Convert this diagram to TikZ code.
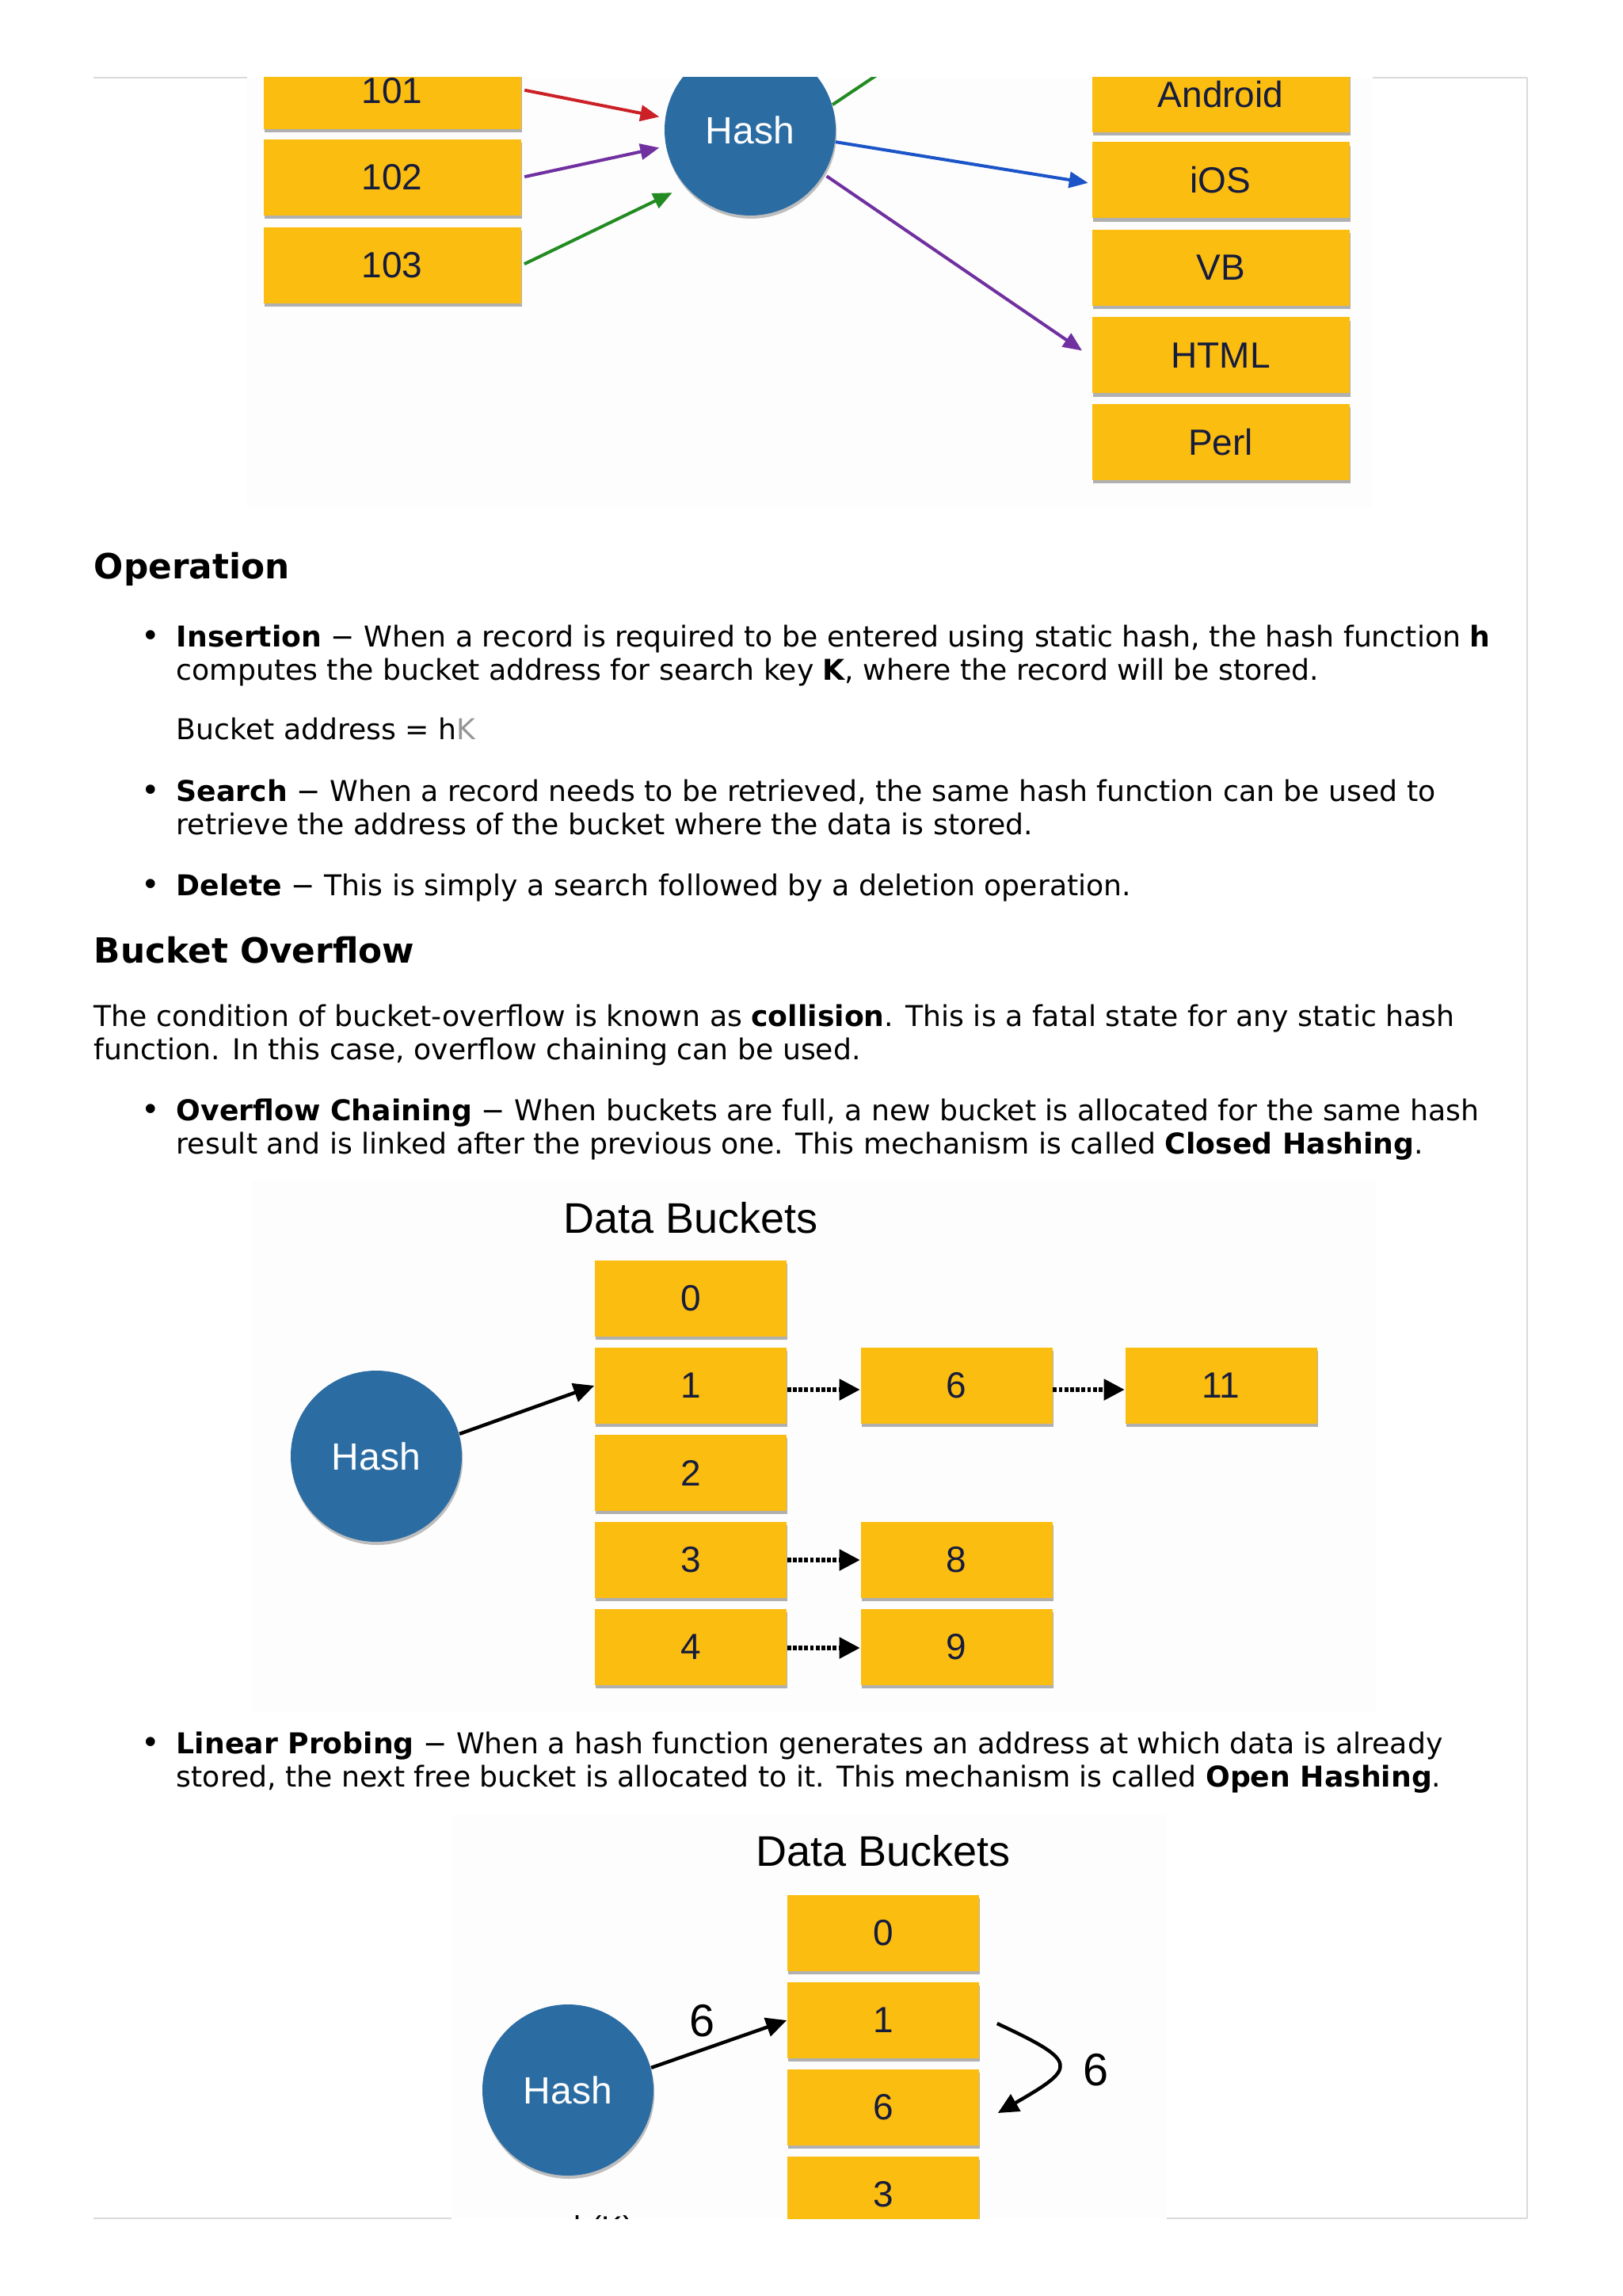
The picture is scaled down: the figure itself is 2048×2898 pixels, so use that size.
\documentclass[tikz,border=0pt]{standalone}
\usepackage{fontspec}
\setmainfont{DejaVu Sans}
\newfontfamily\diag{Liberation Sans}
\usetikzlibrary{arrows.meta,shadows,calc}
\definecolor{boxyellow}{RGB}{252,189,17}
\definecolor{hashblue}{RGB}{43,108,163}
\definecolor{boxtext}{RGB}{22,28,60}
\definecolor{arrred}{RGB}{204,32,39}
\definecolor{arrpurple}{RGB}{112,48,160}
\definecolor{arrgreen}{RGB}{34,139,34}
\definecolor{arrblue}{RGB}{27,84,200}
\definecolor{framegray}{RGB}{218,218,218}
\definecolor{imgbg}{RGB}{253,253,253}
\definecolor{kgray}{RGB}{150,150,150}
\begin{document}
\begin{tikzpicture}[x=0.25pt,y=-0.25pt,
  txt/.style={anchor=base west, inner sep=0, font=\fontsize{9.05}{10}\selectfont},
  bul/.style={anchor=base, inner sep=0, font=\fontsize{10}{10}\selectfont},
  head/.style={anchor=base west, inner sep=0, font=\bfseries\fontsize{10.95}{12}\selectfont},
  ybox/.style={rectangle, fill=boxyellow, inner sep=0, text=boxtext,
    font=\diag\fontsize{11.5}{12}\selectfont,
    drop shadow={shadow xshift=0.3pt, shadow yshift=-1.1pt, opacity=0.3, fill=black}},
  topbox/.style={ybox, minimum width=81.25pt, minimum height=24pt},
  bucket/.style={ybox, minimum width=60.5pt, minimum height=24pt},
  hashc/.style={circle, fill=hashblue, inner sep=0, minimum size=54pt, text=white,
    font=\diag\fontsize{12}{14}\selectfont,
    drop shadow={shadow xshift=0.3pt, shadow yshift=-1pt, opacity=0.25, fill=black}},
  dtitle/.style={anchor=base, inner sep=0, font=\diag\fontsize{13.5}{15}\selectfont},
  lbl/.style={inner sep=0, font=\diag\fontsize{14.4}{16}\selectfont},
  frame/.style={framegray, line width=0.5pt},
  carrow/.style={line width=1pt, -{Triangle[length=6pt,width=5pt]}},
  barrow/.style={black, line width=1.1pt, -{Triangle[length=6.5pt,width=6pt]}},
  darrow/.style={black, line width=1.3pt, dash pattern=on 1.2pt off 0.6pt, -{Triangle[length=6.5pt,width=6.5pt]}}
]
\useasboundingbox (0,0) rectangle (2048,2898);

% image backgrounds
\fill[imgbg] (312,98) rectangle (1733,640);
\fill[imgbg] (318,1490) rectangle (1737,2160);
\fill[imgbg] (570,2290) rectangle (1473,2800);

% page frame
\draw[frame] (118,98) -- (312,98);
\draw[frame] (1733,98) -- (1928,98);
\draw[frame] (1928,98) -- (1928,2800);
\draw[frame] (118,2800) -- (570,2800);
\draw[frame] (1473,2800) -- (1928,2800);

\begin{scope}
\clip (0,98) rectangle (2048,2800);
% ---------- top diagram ----------
\node[topbox] (t101) at (495,115) {101};
\node[topbox] (t102) at (495,224) {102};
\node[topbox] (t103) at (495,335) {103};
\node[hashc] (h1) at (947,164) {Hash};
\node[topbox] (tand) at (1541,119) {Android};
\node[topbox] (tios) at (1541,227.5) {iOS};
\node[topbox] (tvb) at (1541,338) {VB};
\node[topbox] (thtml) at (1541,448.5) {HTML};
\node[topbox] (tperl) at (1541,558) {Perl};
\coordinate (gtop) at (1126,82);

\draw[carrow, arrred, shorten <=1pt, shorten >=1.75pt] ($(t101.east)+(0,-2)$) -- (h1.172);
\draw[carrow, arrpurple, shorten <=1pt, shorten >=2pt] (t102.east) -- (h1.191);
\draw[carrow, arrgreen, shorten <=1pt, shorten >=4.5pt] (t103.east) -- (h1.221);
\draw[arrgreen, line width=1pt] (h1.17) -- (gtop);
\draw[carrow, arrblue, shorten >=1pt] (h1.352) -- ($(tios.west)+(0,4)$);
\draw[carrow, arrpurple, shorten <=1pt, shorten >=3.5pt] (h1.329) -- ($(thtml.west)+(0,2)$);

% ---------- closed hashing diagram ----------
\node[dtitle] (dt2) at (872,1556) {Data Buckets};
\node[bucket] (c0) at (872,1639) {0};
\node[bucket] (c1) at (872,1749) {1};
\node[bucket] (c2) at (872,1859) {2};
\node[bucket] (c3) at (872,1969) {3};
\node[bucket] (c4) at (872,2079) {4};
\node[bucket] (c6) at (1207.5,1749) {6};
\node[bucket] (c11) at (1541.5,1749) {11};
\node[bucket] (c8) at (1207.5,1969) {8};
\node[bucket] (c9) at (1207.5,2079) {9};
\node[hashc] (h2) at (475,1838) {Hash};
\draw[barrow] (h2.15) -- (c1.west);
\draw[darrow] ([yshift=-1.25pt]c1.east) -- ([yshift=-1.25pt]c6.west);
\draw[darrow] ([yshift=-1.25pt]c6.east) -- ([yshift=-1.25pt]c11.west);
\draw[darrow] ([yshift=0pt]c3.east) -- ([yshift=0pt]c8.west);
\draw[darrow] ([yshift=-0.25pt]c4.east) -- ([yshift=-0.25pt]c9.west);

% ---------- open hashing diagram ----------
\node[dtitle] (dt3) at (1115,2355) {Data Buckets};
\node[bucket] (l0) at (1115,2440) {0};
\node[bucket] (l1) at (1115,2550) {1};
\node[bucket] (l6) at (1115,2660) {6};
\node[bucket] (l3) at (1115,2770) {3};
\node[hashc] (h3) at (717,2638) {Hash};
\draw[barrow] (h3.15) -- (l1.west);
\node[lbl] (lab1) at (887,2551) {6};
\draw[barrow] ([xshift=5.5pt,yshift=-1pt]l1.east) to[out=-25,in=30,looseness=2.6] ([xshift=5.75pt,yshift=-1.75pt]l6.east);
\node[lbl] (lab2) at (1383,2613) {6};
\node[inner sep=0, anchor=north, font=\diag\fontsize{10}{12}\selectfont] (hk) at (762,2796) {h(K)};
\end{scope}

% ---------- text ----------
\node[head] (op) at (118,730) {Operation};
\node[bul] (b1) at (190,816) {•};
\node[txt] (i1) at (222,816) {{\bfseries Insertion} − When a record is required to be entered using static hash, the hash function {\bfseries h}};
\node[txt] (i2) at (222,858) {computes the bucket address for search key {\bfseries K}, where the record will be stored.};
\node[txt] (i3) at (222,933) {Bucket address = h\textcolor{kgray}{K}};
\node[bul] (b2) at (190,1011) {•};
\node[txt] (s1) at (222,1011) {{\bfseries Search} − When a record needs to be retrieved, the same hash function can be used to};
\node[txt] (s2) at (222,1053) {retrieve the address of the bucket where the data is stored.};
\node[bul] (b3) at (190,1130) {•};
\node[txt] (d1) at (222,1130) {{\bfseries Delete} − This is simply a search followed by a deletion operation.};
\node[head] (bo) at (118,1215) {Bucket Overflow};
\node[txt] (p1) at (118,1295) {The condition of bucket-overflow is known as {\bfseries collision}. This is a fatal state for any static hash};
\node[txt] (p2) at (118,1337) {function. In this case, overflow chaining can be used.};
\node[bul] (b4) at (190,1414) {•};
\node[txt] (o1) at (222,1414) {{\bfseries Overflow Chaining} − When buckets are full, a new bucket is allocated for the same hash};
\node[txt] (o2) at (222,1456) {result and is linked after the previous one. This mechanism is called {\bfseries Closed Hashing}.};
\node[bul] (b5) at (190,2213) {•};
\node[txt] (lp1) at (222,2213) {{\bfseries Linear Probing} − When a hash function generates an address at which data is already};
\node[txt] (lp2) at (222,2255) {stored, the next free bucket is allocated to it. This mechanism is called {\bfseries Open Hashing}.};
\end{tikzpicture}
\end{document}
